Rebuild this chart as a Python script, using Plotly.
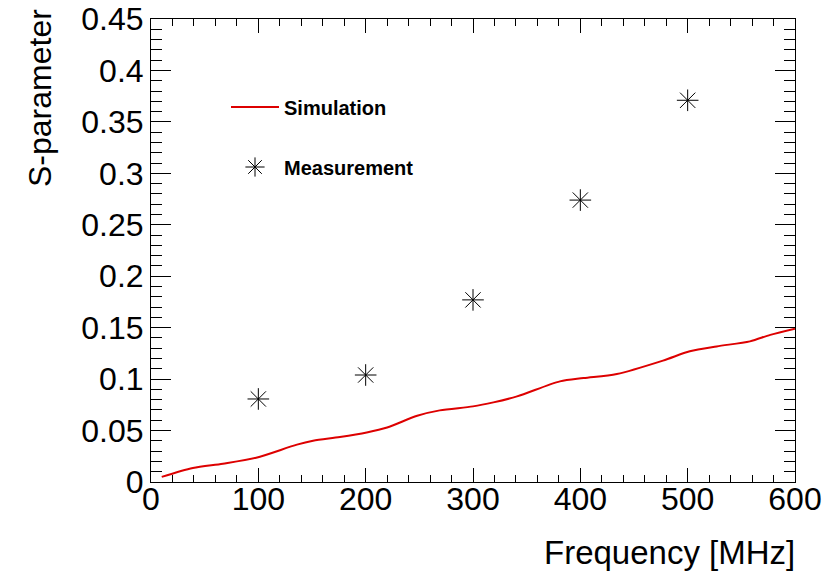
import plotly.graph_objects as go

# Simulation curve
sim_freq = [10, 39, 67, 98, 136, 151, 176, 201, 220, 248, 269, 300, 319, 341, 381, 403, 434, 477, 502, 527, 558, 577, 600]
sim_s = [0.005, 0.0136, 0.0178, 0.0236, 0.0363, 0.040, 0.0437, 0.0482, 0.053, 0.0644, 0.0696, 0.0735, 0.0774, 0.0832, 0.0978, 0.101, 0.105, 0.118, 0.127, 0.1318, 0.1367, 0.143, 0.149]

# Measurement points
meas_freq = [100, 200, 300, 400, 500]
meas_s = [0.0807, 0.104, 0.177, 0.274, 0.371]

x_ticks = [0, 100, 200, 300, 400, 500, 600]
x_ticktext = ["0", "100", "200", "300", "400", "500", "600"]
y_ticks = [0, 0.05, 0.1, 0.15, 0.2, 0.25, 0.3, 0.35, 0.4, 0.45]
y_ticktext = ["0", "0.05", "0.1", "0.15", "0.2", "0.25", "0.3", "0.35", "0.4", "0.45"]

FONT = "Liberation Sans, Arial, Helvetica, sans-serif"

fig = go.Figure()
fig.add_trace(go.Scatter(
    x=sim_freq, y=sim_s, mode="lines", name="Simulation",
    line=dict(color="#dd0000", width=2, shape="spline", smoothing=0.8),
    legend="legend",
))
fig.add_trace(go.Scatter(
    x=meas_freq, y=meas_s, mode="markers", name="Measurement",
    marker=dict(symbol="asterisk-open", size=18, color="black",
                line=dict(color="black", width=1)),
    legend="legend2",
))

W, H = 835, 575
L, R, T, B = 151, 40, 19, 93
pw, ph = W - L - R, H - T - B

def px(xp):
    return (xp - L) / pw

def py(yp):
    return (H - B - yp) / ph

axis_common = dict(
    showline=True, linecolor="black", linewidth=1, mirror="ticks",
    ticks="inside", tickcolor="black", tickwidth=1,
    showgrid=False, zeroline=False, automargin=False,
    ticklabeloverflow="allow",
    tickfont=dict(family=FONT, size=32, color="black"),
)

fig.update_xaxes(
    range=[0, 600], tickmode="array", tickvals=x_ticks, ticktext=x_ticktext,
    ticklen=14, ticklabelstandoff=-11,
    minor=dict(dtick=20, ticks="inside", ticklen=7, tickcolor="black", tickwidth=1, showgrid=False),
    **axis_common,
)
fig.update_yaxes(
    range=[0, 0.45], tickmode="array", tickvals=y_ticks, ticktext=y_ticktext,
    ticklen=20,
    minor=dict(dtick=0.01, ticks="inside", ticklen=11, tickcolor="black", tickwidth=1, showgrid=False),
    **axis_common,
)

legend_common = dict(
    bgcolor="rgba(0,0,0,0)", borderwidth=0,
    font=dict(family=FONT, size=20, color="black", weight="bold"),
    xanchor="left", yanchor="middle", itemwidth=48,
)

fig.update_layout(
    width=W, height=H,
    margin=dict(l=L, r=R, t=T, b=B, pad=0, autoexpand=False),
    paper_bgcolor="white", plot_bgcolor="white",
    showlegend=True,
    legend=dict(x=px(226), y=py(107), **legend_common),
    legend2=dict(x=px(226), y=py(167), **legend_common),
    annotations=[
        dict(text="Frequency [MHz]", xref="paper", yref="paper",
             x=px(797), y=py(552), xanchor="right", yanchor="middle",
             showarrow=False, font=dict(family=FONT, size=33, color="black")),
        dict(text="S-parameter", xref="paper", yref="paper",
             x=px(40), y=py(98), xanchor="center", yanchor="middle", textangle=-90,
             showarrow=False, font=dict(family=FONT, size=32, color="black")),
    ],
)

# remove the default page margin so the figure sits at the window's top-left corner
fig.write_html("out.html",
               config={"displayModeBar": False},
               post_script="document.body.style.margin='0';document.body.style.overflow='hidden';")
